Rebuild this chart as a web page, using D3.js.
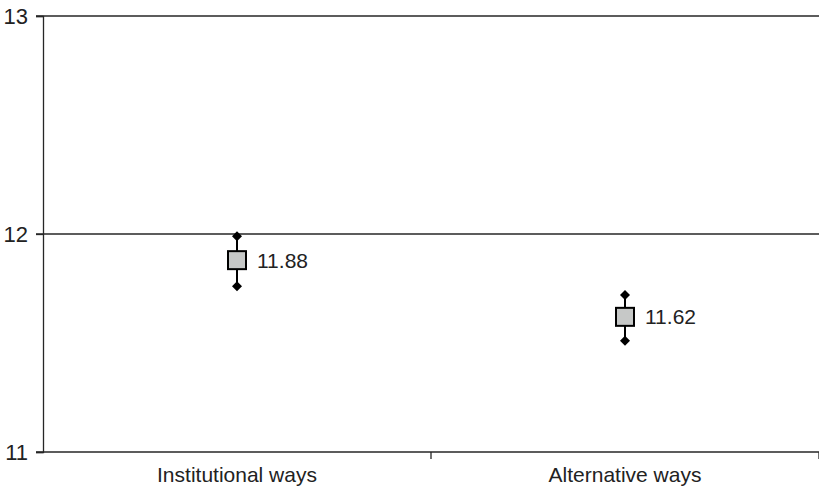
<!DOCTYPE html>
<html>
<head>
<meta charset="utf-8">
<script src="https://cdn.jsdelivr.net/npm/d3@7/dist/d3.min.js"></script>
<style>
  html, body { margin: 0; padding: 0; background: #fff; }
  svg { display: block; font-family: "Liberation Sans", Arial, sans-serif; }
</style>
</head>
<body>
<svg id="chart" width="819" height="487"></svg>
<script>
// Mean scores with upper/lower bounds per way
const categories = ["Institutional ways", "Alternative ways"];
const means = [11.88, 11.62];
const upper = [11.99, 11.72];
const lower = [11.76, 11.51];
const yTicks = [11, 12, 13];

const W = 819, H = 487;
const margin = { top: 16, right: 0, bottom: 35, left: 43 };
const svg = d3.select("#chart");

const x = d3.scaleBand()
  .domain(categories)
  .range([margin.left, W - margin.right])
  .padding(0);

const y = d3.scaleLinear()
  .domain([11, 13])
  .range([H - margin.bottom, margin.top]);

const lineColor = "#262626";

// Horizontal gridlines
svg.append("g")
  .selectAll("line")
  .data(yTicks.filter(d => d !== 11))
  .join("line")
  .attr("x1", margin.left - 7)
  .attr("x2", W - margin.right)
  .attr("y1", d => y(d))
  .attr("y2", d => y(d))
  .attr("stroke", lineColor)
  .attr("stroke-width", 1.3);

// Y axis
const yAxis = svg.append("g")
  .attr("transform", `translate(${margin.left},0)`)
  .call(d3.axisLeft(y).tickValues(yTicks).tickFormat(d3.format("d")).tickSize(7).tickPadding(8));
yAxis.select(".domain").attr("stroke", lineColor).attr("stroke-width", 1.3);
yAxis.selectAll(".tick line").attr("stroke", lineColor).attr("stroke-width", 1.3);
yAxis.selectAll(".tick text")
  .attr("font-size", 22).attr("fill", "#222")
  .attr("font-family", "'Liberation Sans', Arial, sans-serif");

// X axis with ticks between categories
const xAxis = svg.append("g")
  .attr("transform", `translate(0,${y(11)})`);
xAxis.append("line")
  .attr("x1", margin.left - 7).attr("x2", W - margin.right)
  .attr("stroke", lineColor).attr("stroke-width", 1.3);
xAxis.selectAll("line.sep")
  .data(categories)
  .join("line")
  .attr("class", "sep")
  .attr("x1", d => x(d) + x.bandwidth())
  .attr("x2", d => x(d) + x.bandwidth())
  .attr("y1", 0).attr("y2", 7)
  .attr("stroke", lineColor).attr("stroke-width", 1.3);
xAxis.selectAll("text")
  .data(categories)
  .join("text")
  .attr("x", d => x(d) + x.bandwidth() / 2)
  .attr("y", 30)
  .attr("text-anchor", "middle")
  .attr("font-size", 21)
  .attr("fill", "#222")
  .text(d => d);

// Range whiskers, bound diamonds, mean boxes and labels
const rows = categories.map((c, i) => ({ c, m: means[i], hi: upper[i], lo: lower[i] }));
const marks = svg.append("g").selectAll("g").data(rows).join("g")
  .attr("transform", d => `translate(${x(d.c) + x.bandwidth() / 2},0)`);

marks.append("line")
  .attr("y1", d => y(d.hi)).attr("y2", d => y(d.lo))
  .attr("stroke", "#000").attr("stroke-width", 2);

const diamond = d3.symbol().type(d3.symbolSquare).size(50);
marks.selectAll("path.bound")
  .data(d => [d.hi, d.lo])
  .join("path")
  .attr("class", "bound")
  .attr("d", diamond)
  .attr("transform", v => `translate(0,${y(v)}) rotate(45)`)
  .attr("fill", "#000");

const box = 18;
marks.append("rect")
  .attr("x", -box / 2)
  .attr("y", d => y(d.m) - box / 2)
  .attr("width", box).attr("height", box)
  .attr("fill", "#c6c8c7")
  .attr("stroke", "#000").attr("stroke-width", 2);

marks.append("text")
  .attr("x", 20)
  .attr("y", d => y(d.m))
  .attr("dy", "0.36em")
  .attr("font-size", 21)
  .attr("fill", "#222")
  .text(d => d3.format(".2f")(d.m));
</script>
</body>
</html>
